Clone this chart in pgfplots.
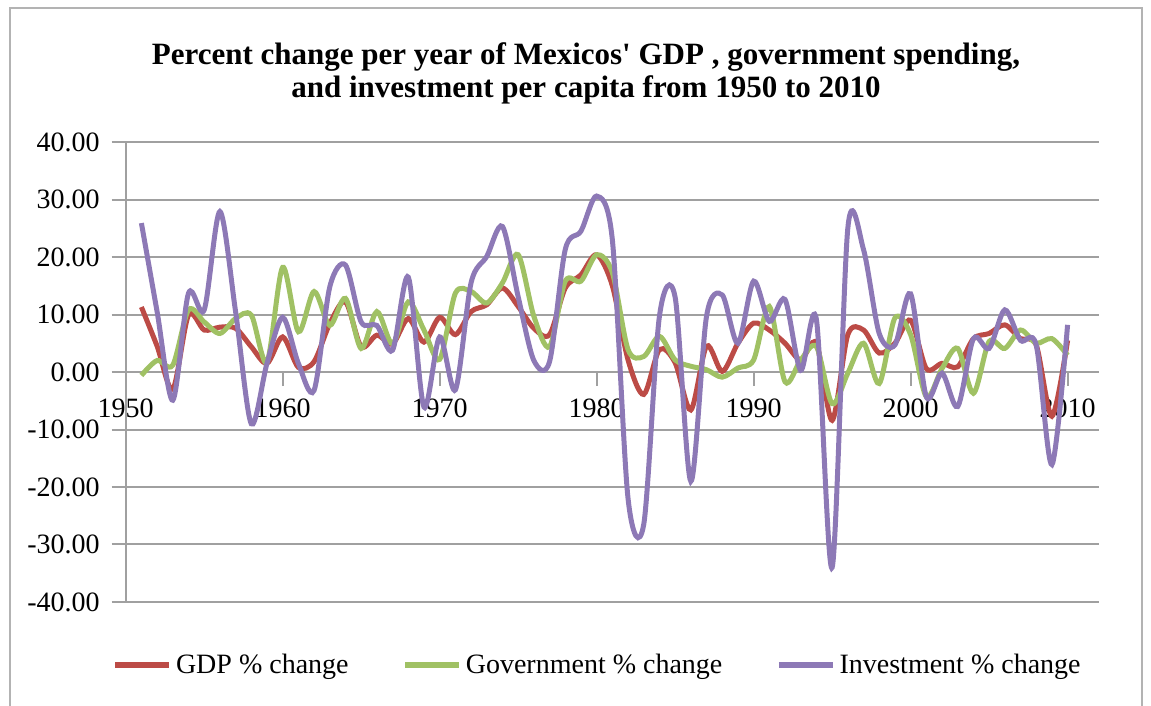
\documentclass[border=0pt]{standalone}
\usepackage{pgfplots}
\pgfplotsset{compat=1.18}
\usepackage{pgfplotstable}
\usepackage{fontspec}
\setmainfont{Liberation Serif}
\newfontfamily\titlefont{Liberation Serif}[Ligatures=TeXOff]
\definecolor{gdpc}{RGB}{188,75,70}
\definecolor{govc}{RGB}{160,193,100}
\definecolor{invc}{RGB}{141,121,182}
\definecolor{gridc}{RGB}{160,160,160}
\pgfplotstableread{
year gdp gov inv
1951 11.3 -0.6 25.9
1952 4.5 2.0 10.5
1953 -3.0 1.2 -4.9
1954 9.9 10.8 13.7
1955 7.3 8.7 10.8
1956 7.8 6.7 27.9
1957 7.6 9.3 10.5
1958 4.4 9.9 -9.0
1959 1.5 1.7 1.5
1960 6.1 18.2 9.5
1961 0.8 7.0 1.5
1962 1.8 14.0 -3.2
1963 8.4 8.1 14.8
1964 12.2 12.8 18.6
1965 4.4 4.1 8.7
1966 6.4 10.5 8.1
1967 4.9 4.9 3.8
1968 9.3 12.2 16.5
1969 5.2 7.3 -6.1
1970 9.5 2.2 6.1
1971 6.5 13.7 -3.1
1972 10.5 14.0 15.5
1973 11.7 12.0 20.1
1974 14.6 15.5 25.3
1975 11.4 20.4 13.1
1976 7.6 9.7 2.0
1977 6.5 4.4 1.8
1978 14.6 15.8 21.3
1979 16.9 15.8 24.5
1980 20.4 20.4 30.6
1981 15.0 17.3 23.0
1982 2.1 3.9 -22.0
1983 -3.9 2.7 -26.5
1984 3.9 6.2 9.7
1985 1.6 2.1 13.0
1986 -6.6 1.0 -19.0
1987 4.5 0.4 9.7
1988 0.1 -0.9 13.4
1989 5.0 0.7 5.0
1990 8.5 2.1 15.8
1991 7.3 11.4 8.8
1992 5.0 -1.7 12.6
1993 2.1 2.1 0.3
1994 5.0 4.4 9.1
1995 -8.4 -5.5 -34.0
1996 6.5 -0.2 25.0
1997 7.3 5.0 21.3
1998 3.3 -2.0 6.7
1999 5.0 9.4 4.7
2000 9.0 6.5 13.6
2001 0.6 -4.3 -4.3
2002 1.5 0.6 -0.2
2003 0.9 4.1 -6.0
2004 5.8 -3.7 5.8
2005 6.7 5.3 4.1
2006 8.2 4.1 10.8
2007 5.8 7.3 5.5
2008 4.7 5.0 4.7
2009 -7.7 5.8 -16.1
2010 5.5 2.9 8.2
}\datatable
\begin{document}
\begin{tikzpicture}
\draw[gridc!80, line width=1pt] (5pt,-10pt) -- (5pt,349pt) -- (571pt,349pt) -- (571pt,-10pt);
\node[align=center, font=\titlefont\bfseries\fontsize{15.5}{16.5}\selectfont] at (293pt,316.5pt)
  {Percent change per year of Mexicos' GDP , government spending,\\and investment per capita from 1950 to 2010};
\begin{axis}[
  at={(62.85pt,52pt)}, anchor=south west,
  width=486.65pt, height=230pt, scale only axis,
  xmin=1950, xmax=2012, ymin=-40, ymax=40,
  axis x line=middle, axis y line=left,
  axis line style={gridc, line width=1pt, -},
  hide obscured x ticks=false,
  xtick={1950,1960,...,2010},
  ytick={-40,-30,...,40},
  ymajorgrids, grid style={gridc, line width=1pt},
  tick style={gridc, line width=1pt},
  major tick length=7pt,
  tick align=outside,
  xticklabel style={font=\fontsize{14}{16}\selectfont, yshift=-3pt},
  yticklabel style={font=\fontsize{14}{16}\selectfont, xshift=-2.5pt},
  xticklabel={\pgfmathprintnumber[1000 sep={}]{\tick}},
  yticklabel={\pgfmathprintnumber[fixed, fixed zerofill, precision=2]{\tick}},
  /pgf/number format/assume math mode=true,
  clip=false,
  legend style={at={(0.486,-0.137)}, anchor=center, draw=none, fill=none,
    legend columns=3, font=\fontsize{14}{16}\selectfont,
    /tikz/every even column/.append style={column sep=25pt}},
  legend image code/.code={\draw[#1, line width=2.6pt] (0pt,0pt) -- (27pt,0pt);},
  every axis plot/.append style={line width=2.5pt, smooth, tension=0.5},
]
\addplot[gdpc] table[x=year, y=gdp] {\datatable};
\addlegendentry{GDP \% change}
\addplot[govc] table[x=year, y=gov] {\datatable};
\addlegendentry{Government \% change}
\addplot[invc] table[x=year, y=inv] {\datatable};
\addlegendentry{Investment \% change}
\end{axis}
\pgfresetboundingbox
\useasboundingbox (0,0) rectangle (575.5pt,353pt);
\end{tikzpicture}
\end{document}
